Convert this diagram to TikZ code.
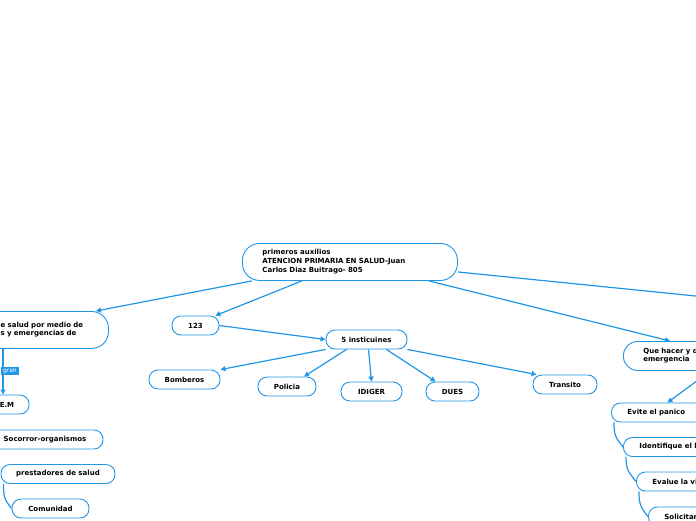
\documentclass[tikz,border=0pt]{standalone}
\usepackage{fontspec}
\newfontfamily\mapfont{DejaVu Sans}
\usetikzlibrary{arrows.meta, positioning}
\definecolor{mapblue}{RGB}{33,150,230}
\tikzset{
    topic/.style={
        rectangle, rounded corners=9pt, draw=mapblue, line width=0.9pt, fill=white,
        minimum height=19pt, inner xsep=6pt, align=center, font=\mapfont\bfseries\fontsize{7}{8}\selectfont
    },
    topic_left/.style={
        topic, align=left, inner xsep=16pt
    },
    arrow/.style={
        line width=1.2pt, draw=mapblue, -{Triangle[length=5pt, width=5pt]}
    },
    curl/.style={
        line width=1.2pt, draw=mapblue
    },
    tag_label/.style={
        rectangle, fill=mapblue, text=white, inner xsep=2pt, inner ysep=1.5pt, font=\mapfont\fontsize{6}{7}\selectfont
    }
}

\begin{document}
\begin{tikzpicture}[x=1pt, y=-1pt]
    \useasboundingbox (0,0) rectangle (696,520);
    \clip (0,0) rectangle (696,520);

    % central topic
    \node[topic_left, anchor=north west, text width=175pt, inner xsep=20pt, minimum height=37pt, rounded corners=17pt, font=\mapfont\bfseries\fontsize{7}{9}\selectfont] (root) at (242,243) {primeros auxilios\\ATENCION PRIMARIA EN SALUD-Juan\\Carlos Diaz Buitrago- 805};

    % left branch
    \node[topic_left, anchor=north east, text width=84pt, inner xsep=24pt, minimum height=37pt, rounded corners=17pt] (lft) at (109,311) {e salud por medio de\\s y emergencias de};
    \node[topic, minimum width=44pt] (em) at (7,404.5) {E.M};
    \node[topic, minimum width=116pt] (socorro) at (45,439.5) {Socorror-organismos};
    \node[topic, minimum width=114pt] (prest) at (58,474) {prestadores de salud};
    \node[topic, minimum width=77pt] (comun) at (50.5,508.5) {Comunidad};

    % middle branch
    \node[topic, minimum width=47pt] (n123) at (195.5,325.5) {123};
    \node[topic, minimum width=81pt] (five) at (366.5,339.5) {5 insticuines};
    \node[topic, minimum width=71pt] (bomb) at (184.5,379.5) {Bomberos};
    \node[topic, minimum width=58pt] (poli) at (287,386.5) {Policia};
    \node[topic, minimum width=61pt] (idiger) at (371.5,391.5) {IDIGER};
    \node[topic, minimum width=53pt] (dues) at (452.5,391.5) {DUES};
    \node[topic, minimum width=64pt] (tran) at (565,384.5) {Transito};

    % right branch
    \node[topic_left, anchor=north west, text width=150pt, inner xsep=20pt, minimum height=29pt, rounded corners=14pt] (que) at (623,341) {Que hacer y q\\emergencia};
    \node[topic_left, anchor=west, text width=80pt] (evite) at (611,412.5) {Evite el panico};
    \node[topic_left, anchor=west, text width=80pt] (ident) at (623,447) {Identifique el l};
    \node[topic_left, anchor=west, text width=80pt] (evalue) at (636,481.5) {Evalue la vi};
    \node[topic_left, anchor=west, text width=80pt] (solic) at (648,516.5) {Solicitar};
    \coordinate (offright) at (760,302.5);

    \draw[arrow] ([xshift=-98pt]root.south) -- ([xshift=-13pt]lft.north east);
    \draw[arrow] ([xshift=-48pt]root.south) -- ([xshift=-4pt]n123.north east);
    \draw[arrow] (n123.east) -- (five.west);
    \draw[arrow] ([xshift=79pt]root.south) -- ([xshift=47pt]que.north west);
    \draw[curl] ([yshift=-10pt]root.east) -- (offright);
    \draw[arrow] ([xshift=-8pt]que.south) -- (evite.north);

    \draw[arrow] (five.south west) -- (bomb.north east);
    \draw[arrow] ([xshift=-20pt]five.south) -- ([xshift=17pt]poli.north);
    \draw[arrow] ([xshift=2pt]five.south) -- (idiger.north);
    \draw[arrow] ([xshift=20pt]five.south) -- ([xshift=10pt]dues.north west);
    \draw[arrow] (five.south east) -- ([xshift=4pt]tran.north west);

    \draw[arrow] ([xshift=-4pt]lft.south -| em.north) -- ([xshift=-4pt]em.north);
    \node[tag_label, anchor=east] (tg) at (19,371) {gran};

    % brace-like links
    \draw[curl] ([xshift=3pt]prest.south west) .. controls +(0,12) and +(-8,-10) .. (comun.west);
    \draw[curl] ([xshift=3pt]evite.south west) .. controls +(0,12) and +(-8,-10) .. (ident.west);
    \draw[curl] ([xshift=3pt]ident.south west) .. controls +(0,12) and +(-8,-10) .. (evalue.west);
    \draw[curl] ([xshift=3pt]evalue.south west) .. controls +(0,12) and +(-8,-10) .. (solic.west);
\end{tikzpicture}
\end{document}
